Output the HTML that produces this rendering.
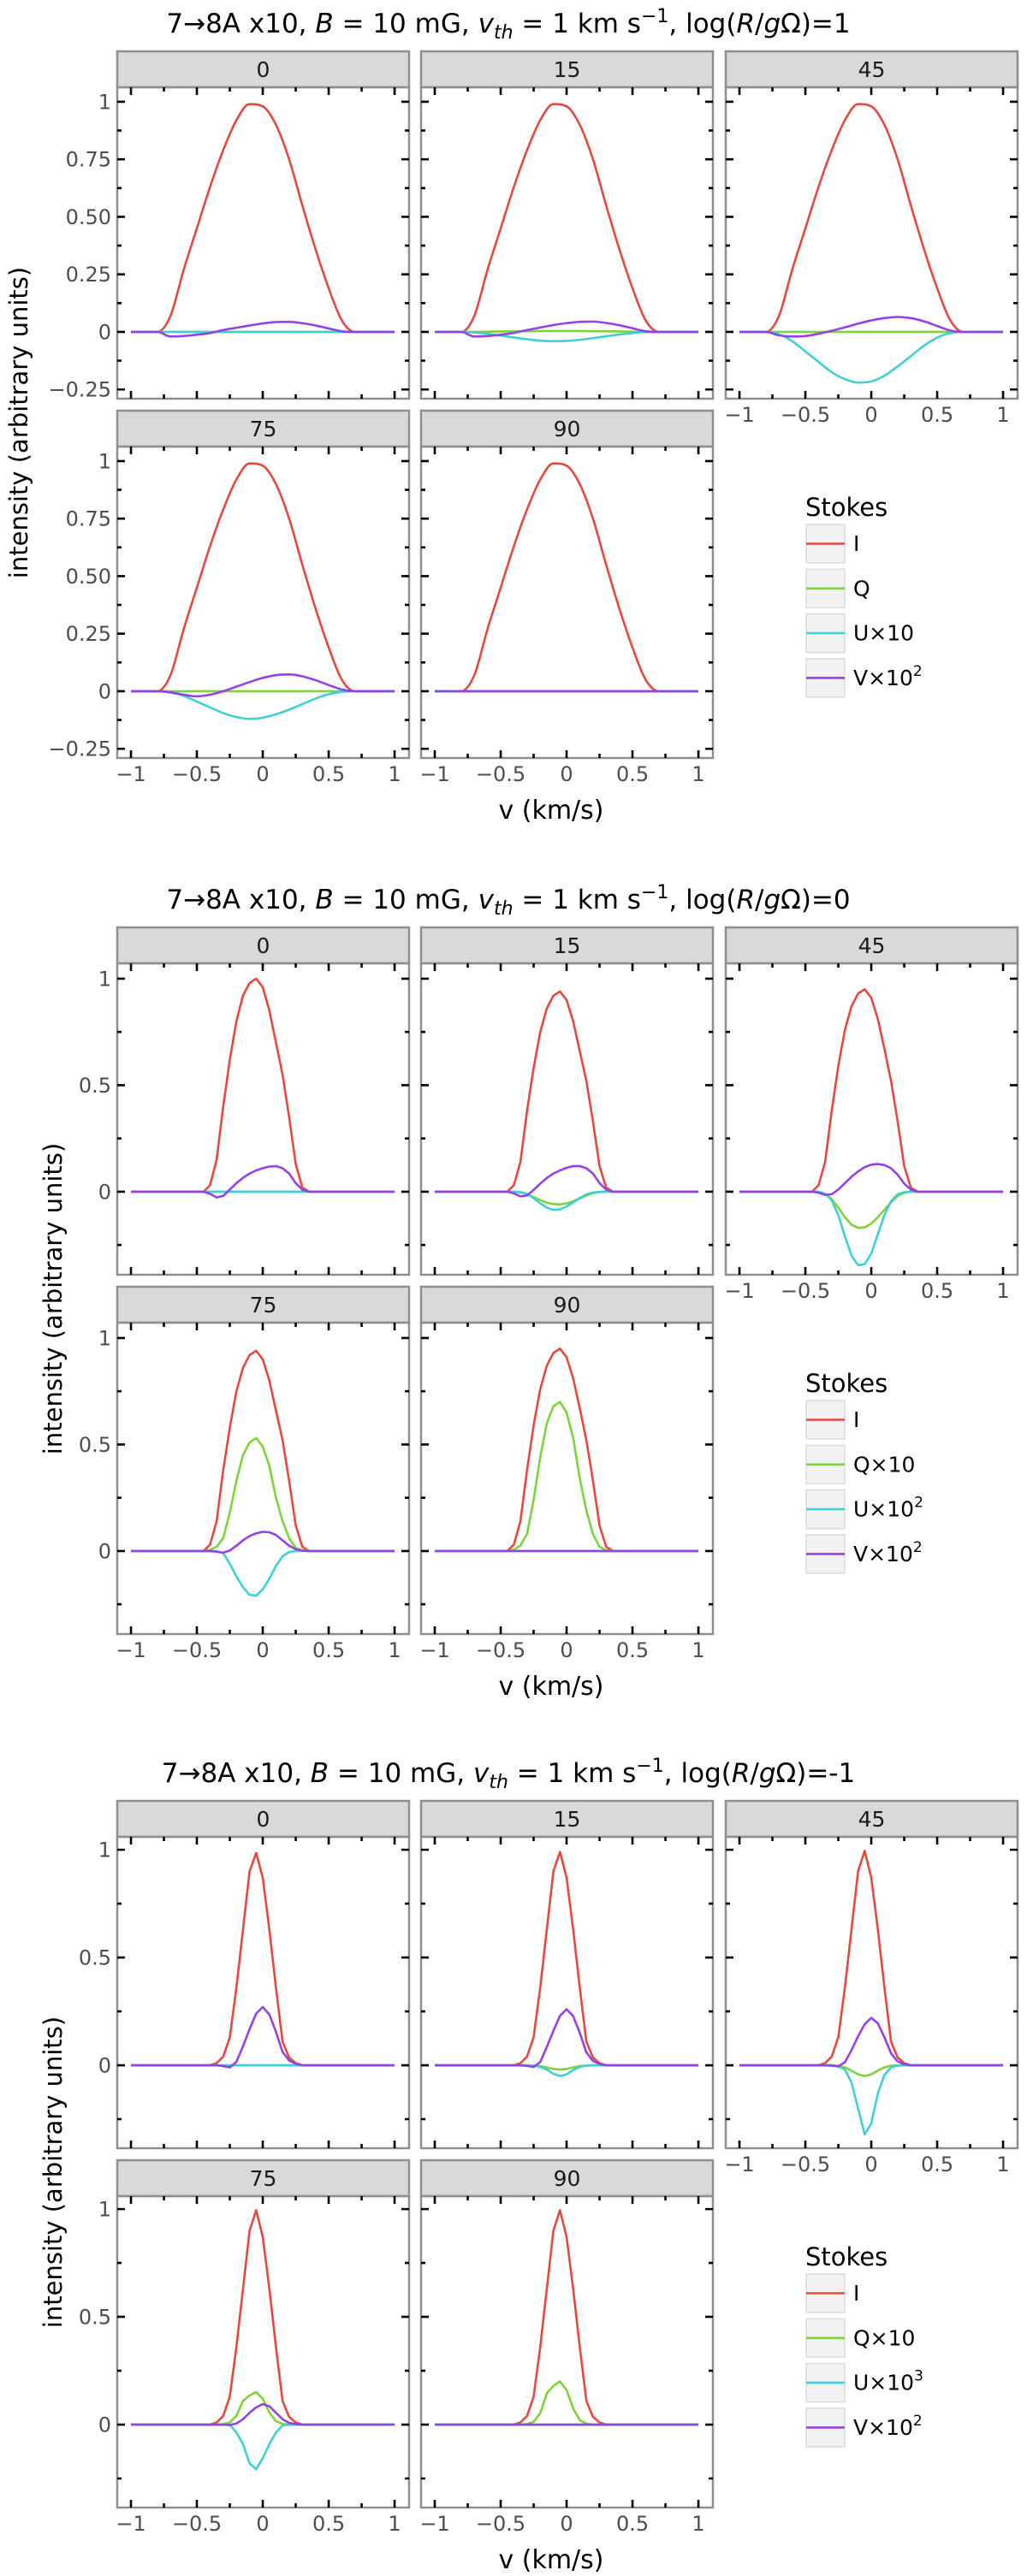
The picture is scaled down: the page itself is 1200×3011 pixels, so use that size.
<!DOCTYPE html>
<html><head><meta charset="utf-8"><style>
html,body{margin:0;padding:0;background:#fff;}
svg{display:block;font-family:"DejaVu Sans","Liberation Sans",sans-serif;}
</style></head><body>
<svg id="root" width="1200" height="3011" viewBox="0 0 1200 3011" xmlns="http://www.w3.org/2000/svg"></svg>
<script>
// ---------- data ----------
const panelAngles = ["0","15","45","75","90"];
const figTitles = ["1","0","-1"];
const legendLabels = [["I","Q","U×10","V×10²"],["I","Q×10","U×10²","V×10²"],["I","Q×10","U×10³","V×10²"]];
const xTicks = [-1,-0.5,0,0.5,1];
const xTickLabels = ["\u22121","\u22120.5","0","0.5","1"];
const xMinor = [-0.75,-0.25,0.25,0.75];
const yTicks1 = [-0.25,0,0.25,0.5,0.75,1];
const yTickLabels1 = ["\u22120.25","0","0.25","0.50","0.75","1"];
const yMinor1 = [-0.125,0.125,0.375,0.625,0.875];
const yTicks23 = [0,0.5,1];
const yTickLabels23 = ["0","0.5","1"];
const yMinor23 = [-0.25,0.25,0.75];

// figure 1: log(R/gΩ)=1
const v1 = [-1,-0.9,-0.8,-0.7,-0.6,-0.5,-0.4,-0.3,-0.2,-0.1,0,0.1,0.2,0.3,0.4,0.5,0.6,0.7,0.8,0.9,1];
const fig1_I = [
 [0,0,0,0.07,0.27,0.45,0.63,0.79,0.92,0.99,0.98,0.9,0.75,0.55,0.36,0.19,0.05,0,0,0,0],
 [0,0,0,0.07,0.27,0.45,0.63,0.79,0.92,0.99,0.98,0.9,0.75,0.55,0.36,0.19,0.05,0,0,0,0],
 [0,0,0,0.07,0.27,0.45,0.63,0.79,0.92,0.99,0.98,0.9,0.75,0.55,0.36,0.19,0.05,0,0,0,0],
 [0,0,0,0.07,0.27,0.45,0.63,0.79,0.92,0.99,0.98,0.9,0.75,0.55,0.36,0.19,0.05,0,0,0,0],
 [0,0,0,0.07,0.27,0.45,0.63,0.79,0.92,0.99,0.98,0.9,0.75,0.55,0.36,0.19,0.05,0,0,0,0]];
const fig1_Q = [
 [0,0,0,0,0,0,0,0,0,0,0,0,0,0,0,0,0,0,0,0,0],
 [0,0,0,0,0.001,0.002,0.003,0.003,0.004,0.004,0.004,0.004,0.003,0.003,0.002,0.001,0,0,0,0,0],
 [0,0,0,0,0,0,0,0,0,0,0,0,0,0,0,0,0,0,0,0,0],
 [0,0,0,0,0,0,0,0,0,0,0,0,0,0,0,0,0,0,0,0,0],
 [0,0,0,0,0,0,0,0,0,0,0,0,0,0,0,0,0,0,0,0,0]];
const fig1_U = [
 [0,0,0,0,0,0,0,0,0,0,0,0,0,0,0,0,0,0,0,0,0],
 [0,0,0,-0.002,-0.008,-0.016,-0.024,-0.032,-0.038,-0.04,-0.039,-0.034,-0.027,-0.019,-0.011,-0.005,-0.001,0,0,0,0],
 [0,0,0,-0.01,-0.04,-0.085,-0.13,-0.175,-0.205,-0.22,-0.215,-0.19,-0.15,-0.105,-0.06,-0.025,-0.005,0,0,0,0],
 [0,0,0,-0.005,-0.02,-0.045,-0.07,-0.095,-0.112,-0.12,-0.115,-0.1,-0.08,-0.056,-0.032,-0.013,-0.003,0,0,0,0],
 [0,0,0,0,0,0,0,0,0,0,0,0,0,0,0,0,0,0,0,0,0]];
const fig1_V = [
 [0,0,0,-0.02,-0.018,-0.012,-0.005,0.008,0.018,0.028,0.037,0.043,0.044,0.038,0.028,0.015,0.003,0,0,0,0],
 [0,0,0,-0.02,-0.018,-0.012,-0.004,0.008,0.019,0.03,0.038,0.044,0.045,0.039,0.029,0.016,0.003,0,0,0,0],
 [0,0,0,-0.015,-0.02,-0.018,-0.008,0.005,0.02,0.036,0.05,0.06,0.065,0.06,0.046,0.026,0.006,0,0,0,0],
 [0,0,0,-0.005,-0.015,-0.022,-0.015,0,0.02,0.04,0.058,0.07,0.073,0.065,0.048,0.027,0.008,0,0,0,0],
 [0,0,0,0,0,0,0,0,0,0,0,0,0,0,0,0,0,0,0,0,0]];

// figure 2: log(R/gΩ)=0
const v2 = [-1,-0.5,-0.45,-0.4,-0.35,-0.3,-0.25,-0.2,-0.15,-0.1,-0.05,0,0.05,0.1,0.15,0.2,0.25,0.3,0.35,0.4,1];
const fig2_I = [
 [0,0,0,0.03,0.15,0.4,0.62,0.8,0.92,0.98,1.0,0.96,0.85,0.7,0.55,0.35,0.13,0.02,0,0,0],
 [0,0,0,0.03,0.14,0.38,0.58,0.75,0.86,0.92,0.94,0.9,0.8,0.66,0.52,0.33,0.12,0.02,0,0,0],
 [0,0,0,0.03,0.14,0.38,0.59,0.76,0.87,0.93,0.95,0.91,0.81,0.67,0.52,0.33,0.12,0.02,0,0,0],
 [0,0,0,0.03,0.14,0.38,0.58,0.75,0.86,0.92,0.94,0.9,0.8,0.66,0.52,0.33,0.12,0.02,0,0,0],
 [0,0,0,0.03,0.14,0.38,0.59,0.76,0.87,0.93,0.95,0.91,0.81,0.67,0.52,0.33,0.12,0.02,0,0,0]];
const fig2_Q = [
 [0,0,0,0,0,0,0,0,0,0,0,0,0,0,0,0,0,0,0,0,0],
 [0,0,0,0,-0.003,-0.012,-0.025,-0.04,-0.052,-0.058,-0.06,-0.055,-0.045,-0.032,-0.018,-0.007,-0.002,0,0,0,0],
 [0,0,0,0,-0.01,-0.035,-0.075,-0.12,-0.155,-0.17,-0.168,-0.15,-0.12,-0.085,-0.05,-0.02,-0.005,0,0,0,0],
 [0,0,0,0.005,0.02,0.06,0.18,0.33,0.45,0.51,0.53,0.49,0.4,0.25,0.14,0.06,0.015,0.003,0,0,0],
 [0,0,0,0.006,0.026,0.08,0.24,0.44,0.6,0.68,0.7,0.65,0.53,0.34,0.19,0.08,0.02,0.004,0,0,0]];
const fig2_U = [
 [0,0,0,0,0,0,0,0,0,0,0,0,0,0,0,0,0,0,0,0,0],
 [0,0,0,0,-0.002,-0.01,-0.03,-0.055,-0.075,-0.085,-0.083,-0.07,-0.05,-0.03,-0.013,-0.004,-0.001,0,0,0,0],
 [0,0,0,0,-0.01,-0.04,-0.11,-0.21,-0.3,-0.345,-0.34,-0.29,-0.2,-0.11,-0.045,-0.012,-0.003,0,0,0,0],
 [0,0,0,0,-0.002,-0.01,-0.06,-0.12,-0.17,-0.205,-0.21,-0.18,-0.13,-0.07,-0.025,-0.005,0,0,0,0,0],
 [0,0,0,0,0,0,0,0,0,0,0,0,0,0,0,0,0,0,0,0,0]];
const fig2_V = [
 [0,0,0,-0.01,-0.027,-0.02,0.01,0.04,0.065,0.085,0.1,0.11,0.118,0.12,0.11,0.085,0.04,0.01,0,0,0],
 [0,0,0,-0.008,-0.022,-0.018,0.008,0.038,0.064,0.085,0.1,0.112,0.12,0.12,0.11,0.085,0.04,0.01,0,0,0],
 [0,0,0,-0.005,-0.015,-0.012,0.01,0.04,0.07,0.095,0.115,0.127,0.13,0.125,0.11,0.08,0.038,0.01,0,0,0],
 [0,0,0,0,-0.003,-0.008,0.002,0.025,0.05,0.07,0.083,0.09,0.088,0.075,0.05,0.025,0.008,0.002,0,0,0],
 [0,0,0,0,0,0,0,0,0,0,0,0,0,0,0,0,0,0,0,0,0]];

// figure 3: log(R/gΩ)=-1
const v3 = [-1,-0.4,-0.35,-0.3,-0.25,-0.2,-0.15,-0.1,-0.05,0,0.05,0.1,0.15,0.2,0.25,0.3,1];
const fig3_I = [
 [0,0,0.01,0.04,0.13,0.36,0.63,0.9,0.985,0.87,0.63,0.36,0.11,0.036,0.01,0,0],
 [0,0,0.01,0.04,0.13,0.36,0.63,0.9,0.99,0.87,0.63,0.36,0.11,0.036,0.01,0,0],
 [0,0,0.01,0.04,0.13,0.36,0.63,0.9,0.995,0.87,0.63,0.36,0.11,0.036,0.01,0,0],
 [0,0,0.01,0.04,0.13,0.36,0.63,0.9,0.995,0.87,0.63,0.36,0.11,0.036,0.01,0,0],
 [0,0,0.01,0.04,0.13,0.36,0.63,0.9,0.995,0.87,0.63,0.36,0.11,0.036,0.01,0,0]];
const fig3_Q = [
 [0,0,0,0,0,0,0,0,0,0,0,0,0,0,0,0,0],
 [0,0,0,0,-0.001,-0.004,-0.01,-0.017,-0.02,-0.017,-0.01,-0.004,-0.001,0,0,0,0],
 [0,0,0,0,-0.002,-0.01,-0.025,-0.042,-0.05,-0.042,-0.025,-0.01,-0.002,0,0,0,0],
 [0,0,0,0.002,0.01,0.04,0.11,0.135,0.151,0.12,0.056,0.016,0.003,0,0,0,0],
 [0,0,0,0.003,0.013,0.053,0.145,0.18,0.2,0.16,0.075,0.021,0.004,0,0,0,0]];
const fig3_U = [
 [0,0,0,0,0,0,0,0,0,0,0,0,0,0,0,0,0],
 [0,0,0,0,-0.002,-0.008,-0.02,-0.04,-0.05,-0.042,-0.022,-0.008,-0.002,0,0,0,0],
 [0,0,0,0,-0.005,-0.02,-0.08,-0.2,-0.32,-0.27,-0.13,-0.045,-0.01,-0.002,0,0,0],
 [0,0,0,0,0,-0.037,-0.09,-0.18,-0.207,-0.156,-0.09,-0.037,-0.004,0,0,0,0],
 [0,0,0,0,0,0,0,0,0,0,0,0,0,0,0,0,0]];
const fig3_V = [
 [0,0,0,-0.004,-0.01,0.016,0.088,0.168,0.24,0.27,0.236,0.155,0.062,0.022,0.007,0,0],
 [0,0,0,-0.003,-0.008,0.015,0.085,0.16,0.23,0.26,0.228,0.15,0.06,0.02,0.006,0,0],
 [0,0,0,-0.002,-0.005,0.014,0.07,0.135,0.19,0.22,0.195,0.13,0.055,0.018,0.005,0,0],
 [0,0,0,0,-0.002,0.005,0.025,0.055,0.08,0.095,0.085,0.055,0.025,0.008,0.002,0,0],
 [0,0,0,0,0,0,0,0,0,0,0,0,0,0,0,0,0]];

// ---------- drawing ----------
const NS = "http://www.w3.org/2000/svg";
const root = document.getElementById("root");
const colors = ["#e5493e","#7ed23a","#3fd0d4","#9442e6"];
const seriesNames = ["I","Q","U","V"];
function mk(tag, attrs, parent){ const e=document.createElementNS(NS,tag); for(const k in attrs) e.setAttribute(k,attrs[k]); (parent||root).appendChild(e); return e; }

const colX = [137, 492, 848];
const PW = 341, PH = 364, SH = 42;
const figTops = [60, 1084, 2105];
const yTitleX = [32, 72, 72];
const figs = [
 {v:v1, I:fig1_I, Q:fig1_Q, U:fig1_U, V:fig1_V, ymax:1.063, ymin:-0.29, yt:yTicks1, ytl:yTickLabels1, ym:yMinor1, smooth:true},
 {v:v2, I:fig2_I, Q:fig2_Q, U:fig2_U, V:fig2_V, ymax:1.072, ymin:-0.39, yt:yTicks23, ytl:yTickLabels23, ym:yMinor23, smooth:false},
 {v:v3, I:fig3_I, Q:fig3_Q, U:fig3_U, V:fig3_V, ymax:1.06, ymin:-0.385, yt:yTicks23, ytl:yTickLabels23, ym:yMinor23, smooth:false}];
const panelPos = [[0,0],[1,0],[2,0],[0,1],[1,1]];
const xmin=-1.104, xmax=1.11;

function monotonePath(xs, ys){
  const n=xs.length; const d=[], m=new Array(n).fill(0);
  for(let i=0;i<n-1;i++) d.push((ys[i+1]-ys[i])/(xs[i+1]-xs[i]));
  m[0]=d[0]; m[n-1]=d[n-2];
  for(let i=1;i<n-1;i++){ m[i]=(d[i-1]*d[i]<=0)?0:(d[i-1]+d[i])/2; }
  for(let i=0;i<n-1;i++){ if(d[i]===0){m[i]=0;m[i+1]=0;continue;} const a=m[i]/d[i], b=m[i+1]/d[i], s=a*a+b*b; if(s>9){const t=3/Math.sqrt(s); m[i]=t*a*d[i]; m[i+1]=t*b*d[i];} }
  let p="M"+xs[0].toFixed(2)+","+ys[0].toFixed(2);
  for(let i=0;i<n-1;i++){ const h=(xs[i+1]-xs[i])/3;
    p+=" C"+(xs[i]+h).toFixed(2)+","+(ys[i]+m[i]*h).toFixed(2)+" "+(xs[i+1]-h).toFixed(2)+","+(ys[i+1]-m[i+1]*h).toFixed(2)+" "+xs[i+1].toFixed(2)+","+ys[i+1].toFixed(2); }
  return p;
}

figs.forEach((F, fi)=>{
  const S = figTops[fi];
  const g = mk("g",{});
  
  
  const title = mk("text",{x:594,y:S-22,"text-anchor":"middle","font-size":"31","fill":"#000"},g);
  
  
  title.innerHTML = '7\u21928A x10, <tspan font-style="italic">B</tspan> = 10 mG, <tspan font-style="italic">v</tspan><tspan font-style="italic" font-size="22" dy="7">th</tspan><tspan dy="-7"> = 1 km s</tspan><tspan font-size="22" dy="-12">\u22121</tspan><tspan dy="12">, log(</tspan><tspan font-style="italic">R</tspan>/<tspan font-style="italic">g</tspan>\u03A9)='+figTitles[fi];

  const yl = mk("text",{x:0,y:0,"text-anchor":"middle","font-size":"29","fill":"#000",transform:"translate("+yTitleX[fi]+","+(S+434)+") rotate(-90)"},g);
  
  
  yl.textContent="intensity (arbitrary units)";
  const xl = mk("text",{x:644,y:S+897,"text-anchor":"middle","font-size":"30","fill":"#000"},g);
  
  
  xl.textContent="v (km/s)";

  panelPos.forEach((pp, pi)=>{
    const L = colX[pp[0]];
    const T = S + pp[1]*420;
    const top = T+SH, bot = T+SH+PH;
    const xs = v => L + (v - xmin)/(xmax-xmin)*PW;
    const ys = y => bot - (y - F.ymin)/(F.ymax-F.ymin)*PH;
    const pg = mk("g",{},g);
    
    
    const strip = mk("rect",{x:L,y:T,width:PW,height:SH,fill:"#d9d9d9",stroke:"#8f8f8f","stroke-width":"2.5"},pg);
    
    
    const st = mk("text",{x:L+PW/2,y:T+SH/2+9,"text-anchor":"middle","font-size":"25","fill":"#1a1a1a"},pg);
    
    
    st.textContent = panelAngles[pi];
    const clipId = "c"+fi+"_"+pi;
    const cp = mk("clipPath",{id:clipId},pg); mk("rect",{x:L,y:top,width:PW,height:PH},cp);
    const lg = mk("g",{"clip-path":"url(#"+clipId+")"},pg);
    [F.I,F.Q,F.U,F.V].forEach((arr, si)=>{
      const vals = arr[pi];
      const X = F.v.map(xs), Y = vals.map(ys);
      let d;
      if(F.smooth) d = monotonePath(X,Y);
      else d = "M"+X.map((x,i)=>x.toFixed(2)+","+Y[i].toFixed(2)).join(" L");
      const p = mk("path",{d:d,fill:"none",stroke:colors[si],"stroke-width":"2.6","stroke-linejoin":"round"},lg);
      
      
    });
    const frame = mk("rect",{x:L,y:top,width:PW,height:PH,fill:"none",stroke:"#8f8f8f","stroke-width":"2.5"},pg);
    
    
    let td="";
    xTicks.forEach(v=>{ const x=xs(v); td+=`M${x},${bot}v-9M${x},${top}v9`; });
    xMinor.forEach(v=>{ const x=xs(v); td+=`M${x},${bot}v-5M${x},${top}v5`; });
    F.yt.forEach(v=>{ const y=ys(v); td+=`M${L},${y}h9M${L+PW},${y}h-9`; });
    F.ym.forEach(v=>{ const y=ys(v); td+=`M${L},${y}h5M${L+PW},${y}h-5`; });
    const tk = mk("path",{d:td,stroke:"#000","stroke-width":"2.6",fill:"none"},pg);
    
    
    if(pp[0]===0){
      F.yt.forEach((v,i)=>{
        const t = mk("text",{x:L-7,y:ys(v)+8.5,"text-anchor":"end","font-size":"24","fill":"#4d4d4d"},pg);
        
        
        t.textContent = F.ytl[i];
      });
    }
    if(pp[1]===1 || pi===2){
      xTicks.forEach((v,i)=>{
        const t = mk("text",{x:xs(v),y:bot+27,"text-anchor":"middle","font-size":"24","fill":"#4d4d4d"},pg);
        
        
        t.textContent = xTickLabels[i];
      });
    }
  });

  // legend
  const lgd = mk("g",{},g);
  
  
  const lt = mk("text",{x:941,y:S+543,"font-size":"29","fill":"#000"},lgd);
  
  
  lt.textContent="Stokes";
  legendLabels[fi].forEach((lab, i)=>{
    const ky = S+553+i*52.3;
    const e = mk("g",{},lgd);
    
    
    mk("rect",{x:942,y:ky,width:45,height:45,fill:"#f2f2f2",stroke:"#dcdcdc","stroke-width":"1.5"},e);
    mk("line",{x1:942,x2:987,y1:ky+22.5,y2:ky+22.5,stroke:colors[i],"stroke-width":"2.6"},e);
    const t = mk("text",{x:997,y:ky+31,"font-size":"25","fill":"#000"},e);
    if(lab.length>1){
      const base = lab.replace("²","").replace("³","");
      const sup = lab.indexOf("²")>=0?"2":(lab.indexOf("³")>=0?"3":"");
      t.innerHTML = base + (sup?'<tspan font-size="17" dy="-11">'+sup+'</tspan>':'');
    } else t.textContent = lab;
  });
});
</script>
</body></html>
